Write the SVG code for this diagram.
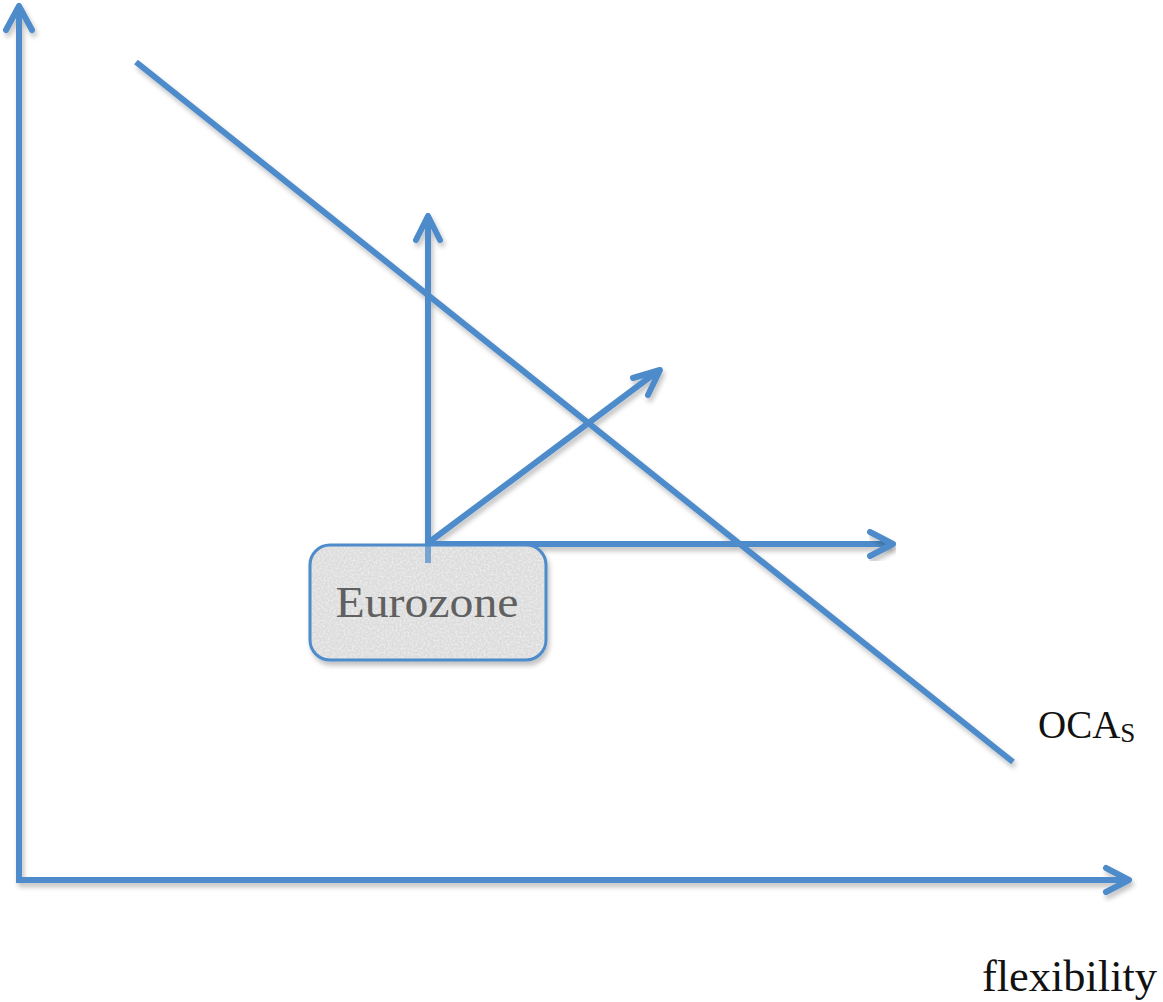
<svg xmlns="http://www.w3.org/2000/svg" width="1163" height="1002" viewBox="0 0 1163 1002">
<defs>
<style>
.ln{stroke:#4d8bca;stroke-width:6;fill:none;stroke-linecap:butt;stroke-linejoin:round}
.hd{stroke:#4d8bca;stroke-width:6;fill:none;stroke-linecap:round;stroke-linejoin:round}
.lbl{font-family:"Liberation Serif","Times New Roman",serif;fill:#111}
</style>
<filter id="sh" x="-10%" y="-10%" width="120%" height="130%">
<feGaussianBlur in="SourceAlpha" stdDeviation="2.5"/>
<feOffset dx="2" dy="4" result="b"/>
<feComponentTransfer><feFuncA type="linear" slope="0.25"/></feComponentTransfer>
<feMerge><feMergeNode/><feMergeNode in="SourceGraphic"/></feMerge>
</filter>
<filter id="tex" x="0" y="0" width="100%" height="100%">
<feTurbulence type="fractalNoise" baseFrequency="0.5" numOctaves="2" seed="3" result="n"/>
<feColorMatrix in="n" type="matrix" values="0 0 0 0 0.97  0 0 0 0 0.97  0 0 0 0 0.97  0 0 0 1.2 -0.45" result="c"/>
<feComposite in="c" in2="SourceGraphic" operator="in" result="m"/>
<feMerge><feMergeNode in="SourceGraphic"/><feMergeNode in="m"/></feMerge>
</filter>
</defs>
<rect width="1163" height="1002" fill="#ffffff"/>
<g id="connectors" filter="url(#sh)">
<g id="y-axis">
<line class="ln" x1="19" y1="880" x2="19" y2="8"/>
<polyline class="hd" points="6,30 19,6 32,30"/>
</g>
<g id="x-axis">
<line class="ln" x1="16" y1="880" x2="1127" y2="880"/>
<polyline class="hd" points="1106,868 1129,880 1106,892"/>
</g>
<line id="ocas-line" class="ln" x1="136" y1="62" x2="1013" y2="762"/>
<g id="arrow-up">
<line class="ln" x1="428" y1="563" x2="428" y2="218"/>
<polyline class="hd" points="416,240 428,216 440,240"/>
</g>
<g id="arrow-diag">
<line class="ln" x1="428" y1="543" x2="658" y2="371"/>
<polyline class="hd" points="633,378 660,370 648,395"/>
</g>
<g id="arrow-right">
<line class="ln" x1="428" y1="544" x2="891" y2="544"/>
</g>
</g>
<g id="eurozone">
<rect x="310" y="545" width="236" height="115" rx="20" ry="20" fill="#dcdcdc" stroke="#4d8bca" stroke-width="3" filter="url(#sh)"/>
<rect x="312" y="547" width="232" height="111" rx="18" ry="18" fill="#dcdcdc" filter="url(#tex)"/>
<line x1="428" y1="546" x2="428" y2="563" stroke="#4d8bca" stroke-width="6" opacity="0.7"/>
<text x="427" y="617" text-anchor="middle" font-family="'Liberation Serif','DejaVu Serif',serif" font-size="45" fill="#606060" textLength="183" lengthAdjust="spacingAndGlyphs">Eurozone</text>
</g>
<g id="arrow-right-head" filter="url(#sh)">
<polyline class="hd" points="870,532 893,544 870,556"/>
</g>
<g id="label-ocas">
<text class="lbl" x="1038" y="738" font-size="39">OCA<tspan font-size="27" dy="4">S</tspan></text>
</g>
<g id="label-flexibility">
<text class="lbl" x="982" y="991" font-size="45" textLength="175" lengthAdjust="spacingAndGlyphs">flexibility</text>
</g>
</svg>
